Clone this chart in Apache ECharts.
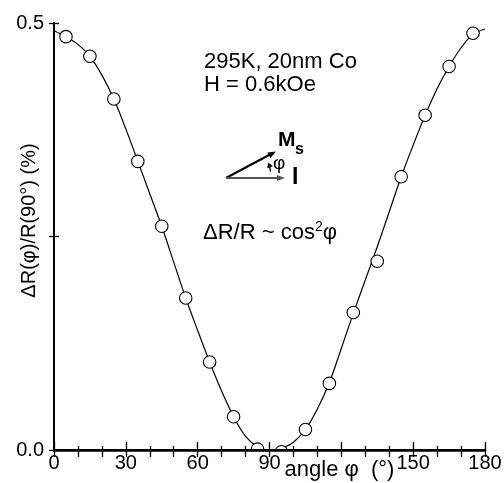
<!DOCTYPE html>
<html>
<head>
<meta charset="utf-8">
<script src="https://cdn.jsdelivr.net/npm/echarts@6/dist/echarts.min.js"></script>
<style>
  html, body { margin: 0; padding: 0; background: #fff; }
  #chart { width: 504px; height: 483px; }
</style>
</head>
<body>
<div id="chart"></div>
<script>
// Measured anisotropic magnetoresistance vs. field angle
const angles = [5, 15, 25, 35, 45, 55, 65, 75, 85, 95, 105, 115, 125, 135, 145, 155, 165, 175];
const measured = [0.484, 0.461, 0.411, 0.338, 0.262, 0.178, 0.103, 0.039, 0.001, -0.002,
                  0.024, 0.078, 0.161, 0.221, 0.320, 0.392, 0.449, 0.488];

// Fitted cos^2 curve, sampled every 5 degrees
const fitAngles = [0, 5, 10, 15, 20, 25, 30, 35, 40, 45, 50, 55, 60, 65, 70, 75, 80, 85, 90,
                   95, 100, 105, 110, 115, 120, 125, 130, 135, 140, 145, 150, 155, 160, 165, 170, 175, 180];
const fitValues = [0.491, 0.484, 0.475, 0.461, 0.439, 0.411, 0.376, 0.338, 0.300, 0.262,
                   0.220, 0.178, 0.140, 0.103, 0.069, 0.039, 0.016, 0.004, 0.000,
                   0.002, 0.009, 0.024, 0.048, 0.079, 0.119, 0.160, 0.199, 0.238, 0.279,
                   0.320, 0.357, 0.392, 0.423, 0.449, 0.471, 0.487, 0.493];

// Axis tick labels (120 is left blank: the axis title sits there)
const xTickValues = [0, 30, 60, 90, 120, 150, 180];
const xTickLabels = ['0', '30', '60', '90', '', '150', '180'];
const yTickValues = [0, 0.25, 0.5];
const yTickLabels = ['0.0', '', '0.5'];

const FONT = 'Liberation Sans, Arial, Helvetica, sans-serif';

function labelFor(values, labels) {
  return function (v) {
    for (let i = 0; i < values.length; i++) {
      if (Math.abs(values[i] - v) < 1e-9) return labels[i];
    }
    return '';
  };
}

// Arrowhead triangle at (tx, ty) pointing along (dx, dy)
function arrowHead(tx, ty, dx, dy, len, half, color) {
  const n = Math.hypot(dx, dy);
  const ux = dx / n, uy = dy / n;
  const bx = tx - ux * len, by = ty - uy * len;
  return {
    type: 'polygon',
    z: 20,
    shape: { points: [[tx, ty], [bx - uy * half, by + ux * half], [bx + uy * half, by - ux * half]] },
    style: { fill: color }
  };
}

// Small angle marker between I and Ms
const origin = [226, 178];
const arcR = 45;
const arcFrom = 8 * Math.PI / 180, arcTo = 20 * Math.PI / 180;
const arcTip = [origin[0] + arcR * Math.cos(arcTo), origin[1] - arcR * Math.sin(arcTo)];

const chart = echarts.init(document.getElementById('chart'), null, { renderer: 'canvas' });

chart.setOption({
  animation: false,
  backgroundColor: '#fff',
  textStyle: { fontFamily: FONT, color: '#000' },
  grid: { left: 54, right: 19, top: 23, bottom: 33, outerBoundsMode: 'none' },
  xAxis: [
    {
      type: 'value', position: 'bottom', min: 0, max: 180, interval: 30, z: 10,
      name: 'angle φ  (°)', nameLocation: 'middle', nameGap: 9, nameMoveOverlap: false,
      nameTextStyle: { fontFamily: FONT, fontSize: 22, color: '#000', padding: [0, 0, 0, 140] },
      axisLine: { show: true, lineStyle: { color: '#000', width: 2.6 } },
      axisTick: { show: true, inside: true, length: 8, lineStyle: { color: '#000', width: 1.3 } },
      minorTick: { show: true, splitNumber: 3, length: 4, lineStyle: { color: '#000', width: 1.3 } },
      axisLabel: { show: true, margin: 3, fontFamily: FONT, fontSize: 20, color: '#000',
                   formatter: labelFor(xTickValues, xTickLabels) },
      splitLine: { show: false }
    },
    {
      type: 'value', position: 'top', min: 0, max: 180, interval: 10, z: 10,
      axisLine: { show: true, lineStyle: { color: '#000', width: 2 } },
      axisTick: { show: true, inside: true, length: 7, lineStyle: { color: '#000', width: 1.3 } },
      axisLabel: { show: false },
      splitLine: { show: false }
    }
  ],
  yAxis: [
    {
      type: 'value', position: 'left', min: 0, max: 0.5, interval: 0.25, z: 10,
      name: 'ΔR(φ)/R(90°) (%)', nameLocation: 'middle', nameGap: 15, nameRotate: 90,
      nameMoveOverlap: false,
      nameTextStyle: { fontFamily: FONT, fontSize: 20, color: '#000', padding: [0, 0, 0, 32] },
      axisLine: { show: true, lineStyle: { color: '#000', width: 2 } },
      axisTick: { show: true, inside: true, length: 5, lineStyle: { color: '#000', width: 1.3 } },
      axisLabel: { show: true, margin: 10, fontFamily: FONT, fontSize: 20, color: '#000',
                   formatter: labelFor(yTickValues, yTickLabels) },
      splitLine: { show: false }
    },
    {
      type: 'value', position: 'right', min: 0, max: 0.5, interval: 0.25, z: 10,
      axisLine: { show: true, lineStyle: { color: '#000', width: 1.6 } },
      axisTick: { show: true, inside: true, length: 5, lineStyle: { color: '#000', width: 1.3 } },
      axisLabel: { show: false },
      splitLine: { show: false }
    }
  ],
  series: [
    {
      name: 'fit', type: 'line', xAxisIndex: 0, yAxisIndex: 0,
      data: fitAngles.map((a, i) => [a, fitValues[i]]),
      smooth: 0.3, showSymbol: false, symbol: 'none', clip: true, z: 2,
      lineStyle: { color: '#000', width: 1.2 }
    },
    {
      name: 'measured', type: 'scatter', xAxisIndex: 0, yAxisIndex: 0,
      data: angles.map((a, i) => [a, measured[i]]),
      symbol: 'circle', symbolSize: 12.5, z: 3, clip: false,
      itemStyle: { color: '#fff', borderColor: '#000', borderWidth: 1.1, opacity: 1 }
    }
  ],
  graphic: [
    // hide symbol parts that fall below the x axis
    { type: 'rect', z: 5, shape: { x: 40, y: 451.5, width: 460, height: 8 }, style: { fill: '#fff' } },

    { type: 'text', z: 20, style: { x: 204, y: 62, text: '295K, 20nm Co', font: '22px ' + FONT,
      fill: '#000', verticalAlign: 'middle' } },
    { type: 'text', z: 20, style: { x: 204, y: 85, text: 'H = 0.6kOe', font: '22px ' + FONT,
      fill: '#000', verticalAlign: 'middle' } },

    // Ms and I arrows
    { type: 'line', z: 20, shape: { x1: origin[0], y1: origin[1], x2: 270, y2: 154.5 },
      style: { stroke: '#000', lineWidth: 2 } },
    arrowHead(276, 151.5, 276 - origin[0], 151.5 - origin[1], 8, 3.2, '#000'),
    { type: 'line', z: 20, shape: { x1: origin[0], y1: origin[1], x2: 278, y2: origin[1] },
      style: { stroke: '#555', lineWidth: 2 } },
    arrowHead(285, origin[1], 1, 0, 8, 3, '#555'),
    { type: 'arc', z: 20, shape: { cx: origin[0], cy: origin[1], r: arcR, startAngle: -arcTo + 0.04,
      endAngle: -arcFrom, clockwise: true }, style: { stroke: '#000', lineWidth: 1.3, fill: null } },
    arrowHead(arcTip[0], arcTip[1], -Math.sin(arcTo), -Math.cos(arcTo), 5, 3, '#000'),

    { type: 'text', z: 20, style: { x: 278, y: 140, text: 'M', font: 'bold 21px ' + FONT,
      fill: '#000', verticalAlign: 'middle' } },
    { type: 'text', z: 20, style: { x: 295, y: 150, text: 's', font: 'bold 16px ' + FONT,
      fill: '#000', verticalAlign: 'middle' } },
    { type: 'text', z: 20, style: { x: 273, y: 164, text: 'φ', font: '19px ' + FONT,
      fill: '#000', verticalAlign: 'middle' } },
    { type: 'text', z: 20, style: { x: 292, y: 178, text: 'I', font: 'bold 23px ' + FONT,
      fill: '#000', verticalAlign: 'middle' } },

    { type: 'text', z: 20, style: { x: 203, y: 233,
      text: '{a|ΔR/R ~ cos}{s|2}{a|φ}', verticalAlign: 'middle',
      rich: {
        a: { fontFamily: FONT, fontSize: 22, fill: '#000', lineHeight: 26 },
        s: { fontFamily: FONT, fontSize: 14, fill: '#000', verticalAlign: 'top', lineHeight: 15 }
      } } }
  ]
});
</script>
</body>
</html>
